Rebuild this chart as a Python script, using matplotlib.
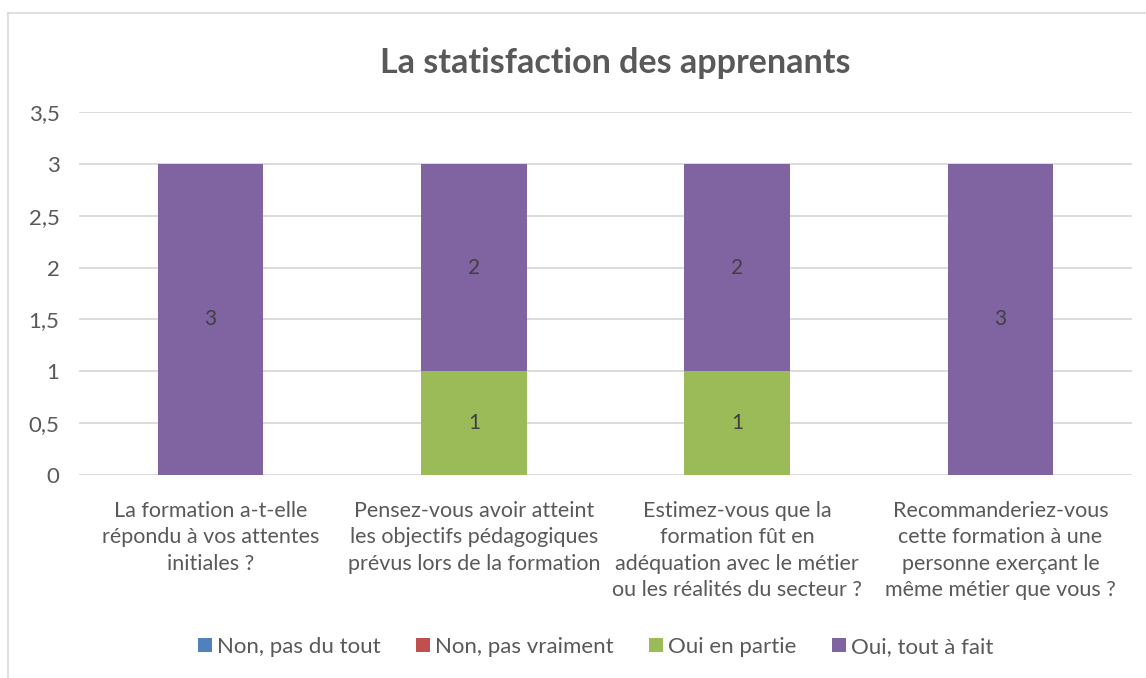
import matplotlib as mpl
import matplotlib.pyplot as plt
import numpy as np

mpl.rcParams['font.family'] = ['Lato', 'DejaVu Sans']

questions = [
    "La formation a-t-elle\nrépondu à vos attentes\ninitiales ?",
    "Pensez-vous avoir atteint\nles objectifs pédagogiques\nprévus lors de la formation",
    "Estimez-vous que la\nformation fût en\nadéquation avec le métier\nou les réalités du secteur ?",
    "Recommanderiez-vous\ncette formation à une\npersonne exerçant le\nmême métier que vous ?",
]
series_names = ["Non, pas du tout", "Non, pas vraiment", "Oui en partie", "Oui, tout à fait"]
non_pas_du_tout = [0, 0, 0, 0]
non_pas_vraiment = [0, 0, 0, 0]
oui_en_partie = [0, 1, 1, 0]
oui_tout_a_fait = [3, 2, 2, 3]
colors = ['#4F81BD', '#C0504D', '#9BBB59', '#8064A2']
yticks = [0, 0.5, 1, 1.5, 2, 2.5, 3, 3.5]

txt = '#595959'
fig = plt.figure(figsize=(11.46, 6.78), dpi=100)
ax = fig.add_axes([0.0689, 0.2994, 0.9189, 0.5354])

x = np.arange(len(questions))
bottom = np.zeros(len(questions))
for name, vals, c in zip(series_names,
                         [non_pas_du_tout, non_pas_vraiment, oui_en_partie, oui_tout_a_fait],
                         colors):
    vals = np.array(vals, dtype=float)
    bars = ax.bar(x, vals, 0.4, bottom=bottom, color=c, label=name, zorder=3)
    for b, v, bt in zip(bars, vals, bottom):
        if v > 0:
            ax.text(b.get_x() + b.get_width() / 2, bt + v / 2, f"{v:g}",
                    ha='center', va='center', fontsize=15, color='#404040', zorder=4)
    bottom += vals

ax.set_xlim(-0.5, 3.5)
ax.set_ylim(0, 3.5)
ax.set_yticks(yticks)
ax.set_yticklabels([f"{t:g}".replace('.', ',') for t in yticks])
ax.set_xticks(x)
ax.set_xticklabels(questions, fontsize=15.5, color=txt, linespacing=1.38)
ax.tick_params(axis='y', length=0, pad=14, labelsize=16, labelcolor=txt)
ax.tick_params(axis='x', length=0, pad=19)
ax.grid(axis='y', color='#D9D9D9', linewidth=1.3, zorder=0)
for s in ax.spines.values():
    s.set_visible(False)

fig.text(0.537, 0.907, "La statisfaction des apprenants", ha='center', va='center',
         fontsize=24.5, fontweight='bold', color=txt)

fig.legend(loc='center', bbox_to_anchor=(0.52, 0.046), ncol=4, frameon=False,
           fontsize=16, labelcolor=txt, handlelength=0.6, handleheight=0.6,
           handletextpad=0.25, columnspacing=1.6)

# chart area border (top and left edges visible)
fig.add_artist(plt.Line2D([0.007, 1.0], [0.981, 0.981], color='#D9D9D9', lw=1.2))
fig.add_artist(plt.Line2D([0.007, 0.007], [0.0, 0.981], color='#D9D9D9', lw=1.2))

fig.savefig('out.png', dpi=100)
